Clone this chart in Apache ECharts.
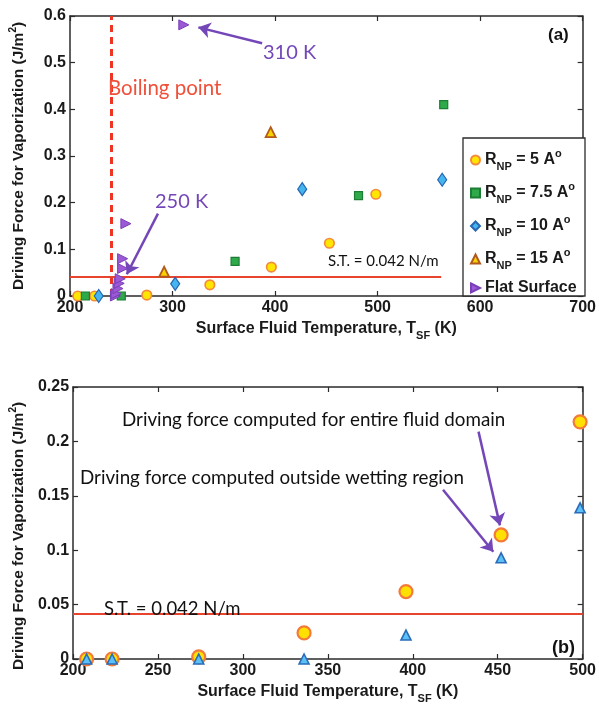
<!DOCTYPE html>
<html>
<head>
<meta charset="utf-8">
<script src="https://cdn.jsdelivr.net/npm/echarts@6/dist/echarts.min.js"></script>
<style>
  html, body { margin: 0; padding: 0; background: #ffffff; }
  #chart { width: 599px; height: 705px; }
</style>
</head>
<body>
<div id="chart"></div>
<script>
// ---- Panel (a): driving force vs surface fluid temperature ----
const rnp5 = [[207.6, 0], [224, 0], [274.9, 0.002], [336.4, 0.024], [396.4, 0.062], [453, 0.113], [498.3, 0.218]];
const rnp75 = [[215, 0], [250, 0], [361, 0.074], [481.4, 0.215], [564.5, 0.41]];
const rnp10 = [[228, 0], [302.6, 0.026], [426.5, 0.229], [563, 0.249]];
const rnp15 = [[291.8, 0.052], [395.7, 0.351]];
const flatSurface = [[244.3, 0], [245, 0.005], [246.8, 0.016], [248, 0.027], [249, 0.037], [251.3, 0.059], [251.3, 0.080], [254.5, 0.155], [311, 0.581]];

// ---- Panel (b): R_NP = 5 A, two ways of computing the force ----
const entireDomain = [[208, 0], [223, 0], [274, 0.002], [336, 0.024], [396, 0.062], [452, 0.114], [498.5, 0.218]];
const outsideWetting = [[208, 0], [223, 0], [274, 0], [336, 0], [396, 0.022], [452, 0.093], [498.5, 0.139]];

const boilingPoint = 240;      // K
const surfaceTension = 0.042;  // N/m
const stLineEndA = 562;        // K, end of the S.T. line in panel (a)

const xTicksA = { min: 200, max: 700, interval: 100 };
const yTicksA = { min: 0, max: 0.6, interval: 0.1 };
const xTicksB = { min: 200, max: 500, interval: 50 };
const yTicksB = { min: 0, max: 0.25, interval: 0.05 };

// Arrows (data coordinates): [from, to]
const arrow310 = [[387.4, 0.5415], [325.2, 0.5757]];
const arrow250 = [[285.8, 0.1766], [255.4, 0.0465]];
const arrowEntire = [[438.7, 0.209], [451.3, 0.1228]];
const arrowOutside = [[417.8, 0.1555], [447.4, 0.0985]];

const AXIS_COLOR = '#2b2b2b';
const LABEL_FONT = 'Liberation Sans, Arial, Helvetica, sans-serif';
const NOTE_FONT = 'Lato, "Open Sans", sans-serif';
const PURPLE = '#7447b8';
const TEXT = '#1a1a1a';

function fmt(v) { return v === 0 ? '0' : String(+v.toFixed(2)); }

function xAxisDef(grid, t, pos, withLabels) {
  const ax = {
    type: 'value', gridIndex: grid, position: pos,
    min: t.min, max: t.max, interval: t.interval,
    axisLine: { show: true, onZero: false, lineStyle: { color: AXIS_COLOR, width: 1.5 } },
    axisTick: { show: true, inside: true, length: 5, lineStyle: { color: AXIS_COLOR, width: 1.2 } },
    axisLabel: { show: withLabels, margin: 4, color: TEXT, fontSize: 16, fontWeight: 'bold', fontFamily: LABEL_FONT },
    splitLine: { show: false }
  };
  if (withLabels) {
    ax.name = '{a|Surface Fluid Temperature, T}{s|SF}{a| (K)}';
    ax.nameLocation = 'middle';
    ax.nameGap = 21;
    ax.nameTextStyle = {
      rich: {
        a: { fontSize: 16, fontWeight: 'bold', fontFamily: LABEL_FONT, color: TEXT, lineHeight: 24, verticalAlign: 'middle' },
        s: { fontSize: 11, fontWeight: 'bold', fontFamily: LABEL_FONT, color: TEXT, lineHeight: 11, verticalAlign: 'bottom' }
      }
    };
  }
  return ax;
}

function yAxisDef(grid, t, pos, withLabels, namePad) {
  const ax = {
    type: 'value', gridIndex: grid, position: pos,
    min: t.min, max: t.max, interval: t.interval,
    axisLine: { show: true, onZero: false, lineStyle: { color: AXIS_COLOR, width: 1.5 } },
    axisTick: { show: true, inside: true, length: 5, lineStyle: { color: AXIS_COLOR, width: 1.2 } },
    axisLabel: { show: withLabels, margin: 4, color: TEXT, fontSize: 16, fontWeight: 'bold', fontFamily: LABEL_FONT, formatter: fmt },
    splitLine: { show: false }
  };
  if (withLabels) {
    ax.name = '{a|Driving Force for Vaporization (J/m}{s|2}{a|)}';
    ax.nameLocation = 'middle';
    ax.nameGap = 40;
    ax.nameTextStyle = {
      padding: namePad || 0,
      rich: {
        a: { fontSize: 15.5, fontWeight: 'bold', fontFamily: LABEL_FONT, color: TEXT, lineHeight: 22, verticalAlign: 'middle' },
        s: { fontSize: 10, fontWeight: 'bold', fontFamily: LABEL_FONT, color: TEXT, lineHeight: 10, verticalAlign: 'top' }
      }
    };
  }
  return ax;
}

function straightLine(from, to, style) {
  return [{ coord: from, lineStyle: style }, { coord: to }];
}

const arrowStyle = { color: PURPLE, width: 2.5, type: 'solid' };
const stStyle = { color: '#e8432d', width: 2, type: 'solid' };

function guideSeries(xi, yi, lines, symbols) {
  return {
    type: 'scatter', xAxisIndex: xi, yAxisIndex: yi, data: [], silent: true, z: 3,
    markLine: {
      silent: true, animation: false, label: { show: false },
      symbol: symbols, symbolSize: 12,
      data: lines
    }
  };
}

const chart = echarts.init(document.getElementById('chart'), null, { renderer: 'canvas' });

const option = {
  backgroundColor: '#ffffff',
  animation: false,
  grid: [
    { left: 62, top: 16, width: 523, height: 280 },
    { left: 62, top: 387, width: 521, height: 277 }
  ],
  xAxis: [
    xAxisDef(0, xTicksA, 'bottom', true),
    xAxisDef(0, xTicksA, 'top', false),
    xAxisDef(1, xTicksB, 'bottom', true),
    xAxisDef(1, xTicksB, 'top', false)
  ],
  yAxis: [
    yAxisDef(0, yTicksA, 'left', true),
    yAxisDef(0, yTicksA, 'right', false),
    yAxisDef(1, yTicksB, 'left', true, [0, 26, 0, 0]),
    yAxisDef(1, yTicksB, 'right', false)
  ],
  legend: {
    orient: 'vertical',
    left: 465, top: 143,
    itemGap: 9, itemWidth: 9, itemHeight: 9,
    selectedMode: false,
    data: [
      { name: 'RNP = 5 A°' },
      { name: 'RNP = 7.5 A°' },
      { name: 'RNP = 10 A°' },
      { name: 'RNP = 15 A°' },
      { name: 'Flat Surface', icon: 'path://M0,0 L10,5 L0,10 Z' }
    ],
    formatter: function (name) {
      if (name === 'Flat Surface') return '{r|Flat Surface}';
      const v = name.replace('RNP = ', '').replace(' A°', '');
      return '{r|R}{sub|NP}{r| = ' + v + ' A}{sup|o}';
    },
    textStyle: {
      rich: {
        r: { fontSize: 16, fontWeight: 'bold', fontFamily: LABEL_FONT, color: TEXT, lineHeight: 24, verticalAlign: 'middle' },
        sub: { fontSize: 11, fontWeight: 'bold', fontFamily: LABEL_FONT, color: TEXT, lineHeight: 11, verticalAlign: 'bottom' },
        sup: { fontSize: 11, fontWeight: 'bold', fontFamily: LABEL_FONT, color: TEXT, lineHeight: 11, verticalAlign: 'top' }
      }
    }
  },
  graphic: [
    { type: 'rect', z: 1, shape: { x: 463, y: 138, width: 122, height: 158 }, style: { fill: '#ffffff', stroke: AXIS_COLOR, lineWidth: 1.3 } },
    { type: 'text', z: 10, x: 263, y: 53, style: { text: '310 K', fill: PURPLE, font: '20px ' + NOTE_FONT, verticalAlign: 'middle' } },
    { type: 'text', z: 10, x: 155, y: 202, style: { text: '250 K', fill: PURPLE, font: '20px ' + NOTE_FONT, verticalAlign: 'middle' } },
    { type: 'text', z: 10, x: 108, y: 88, style: { text: 'Boiling point', fill: '#f0503a', font: '20.5px ' + NOTE_FONT, verticalAlign: 'middle' } },
    { type: 'text', z: 10, x: 548, y: 35, style: { text: '(a)', fill: '#111', font: 'bold 17px ' + LABEL_FONT, verticalAlign: 'middle' } },
    { type: 'text', z: 10, x: 328, y: 261, style: { text: 'S.T. = 0.042 N/m', fill: '#111', font: '15px ' + NOTE_FONT, verticalAlign: 'middle' } },
    { type: 'text', z: 10, x: 122, y: 420, style: { text: 'Driving force computed for entire fluid domain', fill: '#111', font: '18.8px ' + NOTE_FONT, verticalAlign: 'middle' } },
    { type: 'text', z: 10, x: 80, y: 478, style: { text: 'Driving force computed outside wetting region', fill: '#111', font: '18.8px ' + NOTE_FONT, verticalAlign: 'middle' } },
    { type: 'text', z: 10, x: 104, y: 609, style: { text: 'S.T. = 0.042 N/m', fill: '#111', font: '18.5px ' + NOTE_FONT, verticalAlign: 'middle' } },
    { type: 'text', z: 10, x: 552, y: 648, style: { text: '(b)', fill: '#111', font: 'bold 18px ' + LABEL_FONT, verticalAlign: 'middle' } }
  ],
  series: [
    // reference lines for panel (a)
    guideSeries(0, 0, [
      straightLine([boilingPoint, yTicksA.min], [boilingPoint, yTicksA.max], { color: '#ee3524', width: 3, type: [7, 5] }),
      straightLine([xTicksA.min, surfaceTension], [stLineEndA, surfaceTension], stStyle)
    ], ['none', 'none']),
    // arrows for panel (a)
    guideSeries(0, 0, [
      straightLine(arrow310[0], arrow310[1], arrowStyle),
      straightLine(arrow250[0], arrow250[1], arrowStyle)
    ], ['none', 'arrow']),
    {
      type: 'scatter', name: 'RNP = 5 A°', xAxisIndex: 0, yAxisIndex: 0, clip: false, z: 5,
      symbol: 'circle', symbolSize: 9.5, data: rnp5,
      itemStyle: { color: '#ffe600', borderColor: '#f58a3c', borderWidth: 1.7, opacity: 1 }
    },
    {
      type: 'scatter', name: 'RNP = 7.5 A°', xAxisIndex: 0, yAxisIndex: 0, clip: false, z: 5,
      symbol: 'rect', symbolSize: 8, data: rnp75,
      itemStyle: { color: '#2faa4a', borderColor: '#1e7d35', borderWidth: 1.2, opacity: 1 }
    },
    {
      type: 'scatter', name: 'RNP = 10 A°', xAxisIndex: 0, yAxisIndex: 0, clip: false, z: 5,
      symbol: 'diamond', symbolSize: [9, 13], data: rnp10,
      itemStyle: { color: '#45b5f0', borderColor: '#2867b2', borderWidth: 1.2, opacity: 1 }
    },
    {
      type: 'scatter', name: 'RNP = 15 A°', xAxisIndex: 0, yAxisIndex: 0, clip: false, z: 5,
      symbol: 'triangle', symbolSize: 10, data: rnp15,
      itemStyle: { color: '#f7d100', borderColor: '#b25a1d', borderWidth: 1.8, opacity: 1 }
    },
    {
      type: 'scatter', name: 'Flat Surface', xAxisIndex: 0, yAxisIndex: 0, clip: false, z: 6,
      symbol: 'triangle', symbolRotate: -90, symbolSize: 10, data: flatSurface,
      itemStyle: { color: '#9b59d6', borderColor: '#7a3fb8', borderWidth: 1, opacity: 1 }
    },
    // panel (b)
    guideSeries(2, 2, [
      straightLine([xTicksB.min, surfaceTension], [xTicksB.max, surfaceTension], stStyle)
    ], ['none', 'none']),
    guideSeries(2, 2, [
      straightLine(arrowEntire[0], arrowEntire[1], arrowStyle),
      straightLine(arrowOutside[0], arrowOutside[1], arrowStyle)
    ], ['none', 'arrow']),
    {
      type: 'scatter', name: 'entire', xAxisIndex: 2, yAxisIndex: 2, clip: false, z: 5,
      symbol: 'circle', symbolSize: 13, data: entireDomain,
      itemStyle: { color: '#ffe000', borderColor: '#f47a3a', borderWidth: 2.2, opacity: 1 }
    },
    {
      type: 'scatter', name: 'outside', xAxisIndex: 2, yAxisIndex: 2, clip: false, z: 6,
      symbol: 'triangle', symbolSize: 10, data: outsideWetting,
      itemStyle: { color: '#5bc0f5', borderColor: '#2a6cb8', borderWidth: 1.6, opacity: 1 }
    }
  ]
};

chart.setOption(option);
</script>
</body>
</html>
